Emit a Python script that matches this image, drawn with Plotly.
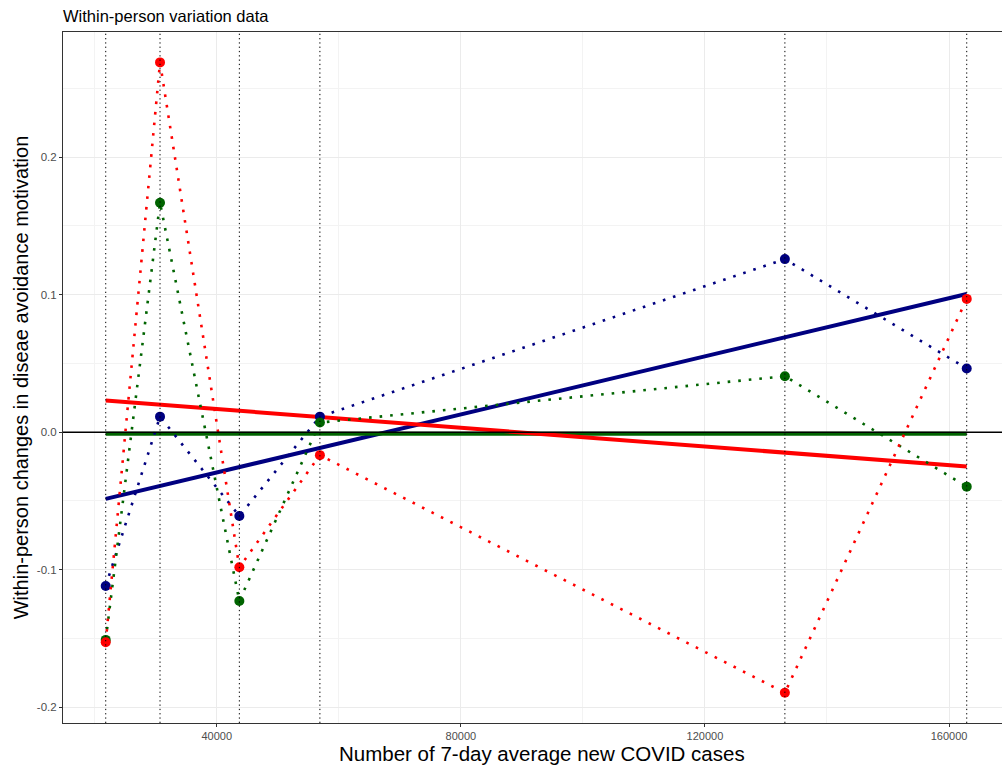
import plotly.graph_objects as go

# ---- data ----
cases = [21800, 30700, 43700, 56900, 133100, 162900]
blue_vals = [-0.1118, 0.0113, -0.0609, 0.0113, 0.1258, 0.0463]
green_vals = [-0.1510, 0.1668, -0.1227, 0.0070, 0.0407, -0.0396]
red_vals = [-0.1527, 0.2688, -0.0982, -0.0167, -0.1894, 0.0969]
fit_x = [21800, 162900]
blue_fit = [-0.0485, 0.1004]
green_fit = [-0.0012, -0.0012]
red_fit = [0.0230, -0.0250]
x_ticks = [40000, 80000, 120000, 160000]
y_ticks = [-0.2, -0.1, 0.0, 0.1, 0.2]
y_labels = ["-0.2", "-0.1", "0.0", "0.1", "0.2"]

NAVY = "#000080"
DGREEN = "#006400"
RED = "#FF0000"

fig = go.Figure()

# vertical reference lines
for c in cases:
    fig.add_shape(type="line", x0=c, x1=c, y0=0, y1=1, xref="x", yref="paper",
                  line=dict(color="black", width=1, dash="1.3px,3px"), layer="above")

series = [(blue_vals, blue_fit, NAVY), (green_vals, green_fit, DGREEN), (red_vals, red_fit, RED)]

for vals, fit, col in series:
    fig.add_trace(go.Scatter(x=fit_x, y=fit, mode="lines",
                             line=dict(color=col, width=4), showlegend=False, hoverinfo="skip"))
for vals, fit, col in series:
    fig.add_trace(go.Scatter(x=cases, y=vals, mode="lines+markers",
                             line=dict(color=col, width=2.6, dash="2.6px,8px"),
                             marker=dict(color=col, size=10),
                             showlegend=False))

# horizontal zero line
fig.add_shape(type="line", x0=0, x1=1, y0=0, y1=0, xref="paper", yref="y",
              line=dict(color="black", width=1.5), layer="above")

fig.add_annotation(text="Number of 7-day average new COVID cases", xref="paper", yref="paper",
                   x=(542 - 63) / 939, y=(723 - 753) / 691, xanchor="center", yanchor="middle",
                   showarrow=False, font=dict(size=20.5, color="black"))

fig.update_layout(
    width=1002, height=765,
    margin=dict(l=63, r=0, t=32, b=42),
    paper_bgcolor="white", plot_bgcolor="white",
    font=dict(family="Liberation Sans, Arial, sans-serif", color="black"),
    title=dict(text="Within-person variation data", x=63/1002, xref="container", xanchor="left",
               y=1 - 16/765, yref="container", yanchor="middle",
               font=dict(size=16.5, color="black")),
)

fig.update_xaxes(
    range=[14800, 168680],
    tickvals=x_ticks, ticktext=[str(v) for v in x_ticks],
    ticks="outside", ticklen=3, tickcolor="#333333", tickwidth=1,
    tickfont=dict(size=11, color="#4D4D4D"),
    showgrid=True, gridcolor="#EBEBEB", gridwidth=1,
    minor=dict(tickvals=[20000, 60000, 100000, 140000], showgrid=True, gridcolor="#F3F3F3", gridwidth=0.6, ticks=""),
    showline=True, linecolor="#333333", linewidth=1, mirror=True,
    zeroline=False,
)
fig.update_yaxes(
    range=[-0.2114, 0.2909],
    tickvals=y_ticks, ticktext=y_labels,
    ticks="outside", ticklen=3, tickcolor="#333333", tickwidth=1,
    tickfont=dict(size=11.5, color="#4D4D4D"),
    showgrid=True, gridcolor="#EBEBEB", gridwidth=1,
    minor=dict(tickvals=[-0.15, -0.05, 0.05, 0.15, 0.25], showgrid=True, gridcolor="#F3F3F3", gridwidth=0.6, ticks=""),
    showline=True, linecolor="#333333", linewidth=1, mirror=False,
    zeroline=False,
    title=dict(text="Within-person changes in diseae avoidance motivation", font=dict(size=20, color="black"), standoff=2),
)

fig.write_html("out.html", config={"displayModeBar": False},
               post_script="document.body.style.margin='0';")
